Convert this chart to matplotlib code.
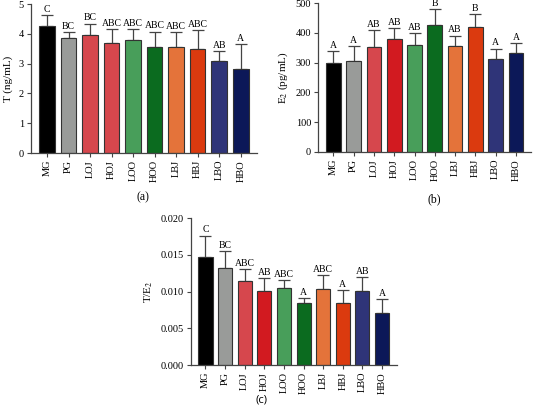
import matplotlib
matplotlib.use("Agg")
import matplotlib.pyplot as plt
from matplotlib.ticker import FormatStrFormatter

plt.rcParams['font.family'] = ['Liberation Serif', 'DejaVu Serif']
plt.rcParams['mathtext.fontset'] = 'stix'

groups = ["MG", "PG", "LOJ", "HOJ", "LOO", "HOO", "LBJ", "HBJ", "LBO", "HBO"]

t_mean = [4.27, 3.86, 3.97, 3.70, 3.80, 3.57, 3.57, 3.50, 3.10, 2.81]
t_top = [4.62, 4.07, 4.35, 4.15, 4.15, 4.08, 4.05, 4.13, 3.43, 3.65]
t_sig = ["C", "BC", "BC", "ABC", "ABC", "ABC", "ABC", "ABC", "AB", "A"]

e2_mean = [298, 306, 352, 380, 360, 427, 355, 419, 314, 334]
e2_top = [338, 355, 409, 415, 400, 480, 391, 464, 347, 367]
e2_sig = ["A", "A", "AB", "AB", "AB", "B", "AB", "B", "A", "A"]

r_mean = [0.01472, 0.01323, 0.01138, 0.01007, 0.01052, 0.00849, 0.01029, 0.00849, 0.01007, 0.00709]
r_top = [0.01761, 0.01549, 0.01300, 0.01183, 0.01156, 0.00907, 0.01219, 0.01020, 0.01196, 0.00894]
r_sig = ["C", "BC", "ABC", "AB", "ABC", "A", "ABC", "A", "AB", "A"]

colors_a = ["#000000", "#999b99", "#d6474d", "#d6474d", "#489e5a", "#0b6b1f",
            "#e4733a", "#db3a0f", "#2f3478", "#0c1858"]
colors_bc = ["#000000", "#999b99", "#d6474d", "#d21a20", "#489e5a", "#0b6b1f",
             "#e4733a", "#db3a0f", "#2f3478", "#0c1858"]

fig = plt.figure(figsize=(5.42, 4.17), dpi=100)


def panel(rect, means, tops, sigs, colors, ymax, step, ylabel, fmt=None):
    ax = fig.add_axes(rect)
    x = range(len(groups))
    err = [[0] * len(means), [t - m for t, m in zip(tops, means)]]
    ax.bar(x, means, width=0.72, color=colors, edgecolor="#333333", linewidth=0.8, zorder=2)
    ax.errorbar(x, means, yerr=err, fmt="none", ecolor="#444444", elinewidth=0.9,
                capsize=4, capthick=0.9, zorder=1)
    for xi, t, s in zip(x, tops, sigs):
        ax.text(xi, t + ymax * 0.008, s, ha="center", va="bottom", fontsize=7, clip_on=False)
    ax.set_xlim(-0.75, len(groups) - 0.25)
    ax.set_ylim(0, ymax)
    ax.set_yticks([i * step for i in range(int(round(ymax / step)) + 1)])
    if fmt:
        ax.yaxis.set_major_formatter(FormatStrFormatter(fmt))
    ax.set_xticks(list(x))
    ax.set_xticklabels(groups, rotation=90, fontsize=7.5)
    ax.tick_params(axis="y", labelsize=7.5, length=3, color="#444444", width=0.8, pad=2)
    ax.tick_params(axis="x", length=3, color="#444444", width=0.8, pad=2)
    ax.spines["top"].set_visible(False)
    ax.spines["right"].set_visible(False)
    for s in ["left", "bottom"]:
        ax.spines[s].set_color("#444444")
        ax.spines[s].set_linewidth(0.9)
    ax.set_ylabel(ylabel, fontsize=8, labelpad=4)
    return ax


panel([0.057, 0.633, 0.417, 0.357], t_mean, t_top, t_sig, colors_a, 5, 1, "T (ng/mL)")
panel([0.587, 0.6355, 0.393, 0.357], e2_mean, e2_top, e2_sig, colors_bc, 500, 100,
      "E$_2$ (pg/mL)")
panel([0.352, 0.1247, 0.380, 0.3525], r_mean, r_top, r_sig, colors_bc, 0.020, 0.005,
      "T/E$_2$", fmt="%.3f")

fig.text(143 / 542, 1 - 197 / 417, "(a)", ha="center", va="center", fontsize=8.5)
fig.text(434 / 542, 1 - 199 / 417, "(b)", ha="center", va="center", fontsize=8.5)
fig.text(261 / 542, 1 - 400 / 417, "(c)", ha="center", va="center", fontsize=8,
         family=["Open Sans", "DejaVu Sans"])

fig.savefig("out.png", dpi=100)
